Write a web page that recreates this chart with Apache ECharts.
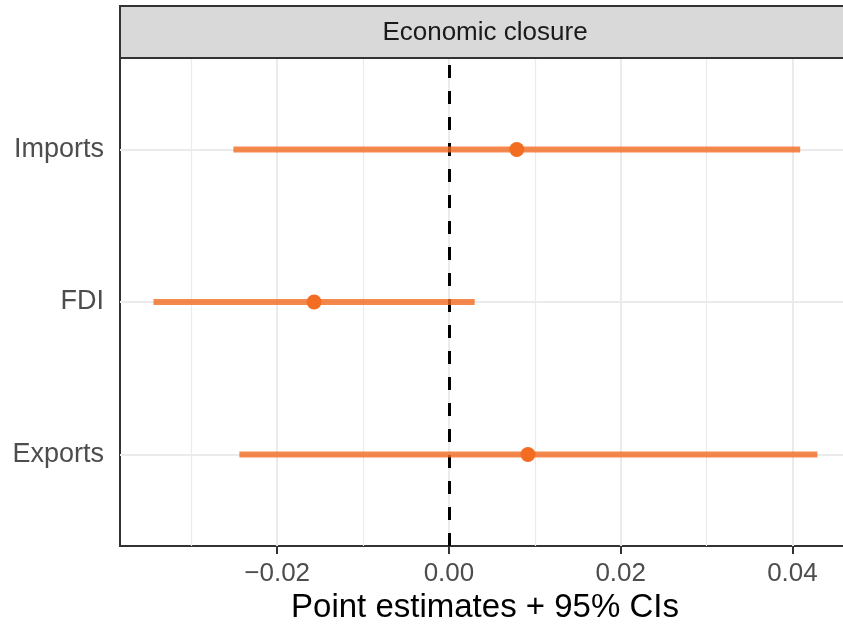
<!DOCTYPE html>
<html>
<head>
<meta charset="utf-8">
<script src="https://cdn.jsdelivr.net/npm/echarts@6/dist/echarts.min.js"></script>
<style>
html,body{margin:0;padding:0;background:#fff;overflow:hidden;width:843px;height:627px;}
#chart{width:843px;height:627px;overflow:hidden;}
</style>
</head>
<body>
<div id="chart"></div>
<script>
// ---- data ----
var categories = ['Exports', 'FDI', 'Imports'];
var estimates = [0.0092, -0.0157, 0.0079];
var lower = [-0.0244, -0.0344, -0.0251];
var upper = [0.0429, 0.0030, 0.0409];
var xMajorTicks = [-0.02, 0.00, 0.02, 0.04];
var xMinorTicks = [-0.03, -0.01, 0.01, 0.03];
var yTicks = [1, 2, 3];
var stripTitle = 'Economic closure';
var xTitle = 'Point estimates + 95% CIs';

var FONT = '"Liberation Sans", Arial, Helvetica, sans-serif';
var ORANGE = '#F26C21';

var chart = echarts.init(document.getElementById('chart'), null, {renderer: 'canvas', width: 843, height: 627});

var rangeData = categories.map(function (c, i) { return [lower[i], upper[i], i + 1]; });
var pointData = categories.map(function (c, i) { return [estimates[i], i + 1]; });

function fmtX(v) {
  var s = Math.abs(v).toFixed(2);
  return (v < -1e-12 ? '\u2212' : '') + s;
}

var option = {
  animation: false,
  backgroundColor: '#ffffff',
  grid: {
    left: 120, top: 58, width: 730, height: 488,
    show: true, borderColor: '#333333', borderWidth: 2, backgroundColor: 'transparent',
    containLabel: false,
    outerBoundsMode: 'none'
  },
  xAxis: {
    type: 'value',
    min: -0.0383, max: 0.0467,
    axisLine: {show: false},
    splitLine: {show: false},
    axisTick: {show: true, customValues: xMajorTicks, length: 8, lineStyle: {color: '#333333', width: 2}},
    axisLabel: {
      show: true, customValues: xMajorTicks, margin: 15,
      color: '#4D4D4D', fontSize: 26, fontFamily: FONT,
      formatter: function (v) { return fmtX(v); }
    },
    name: xTitle,
    nameLocation: 'middle',
    nameGap: 45,
    nameTextStyle: {color: '#000000', fontSize: 33, fontFamily: FONT}
  },
  yAxis: {
    type: 'value',
    min: 0.4, max: 3.6,
    axisLine: {show: false},
    splitLine: {show: false},
    axisTick: {show: true, customValues: yTicks, length: 8, lineStyle: {color: '#333333', width: 2}},
    axisLabel: {
      show: true, customValues: yTicks, margin: 16,
      color: '#4D4D4D', fontSize: 27, fontFamily: FONT,
      formatter: function (v) { return categories[Math.round(v) - 1] || ''; }
    }
  },
  graphic: [
    {
      type: 'rect', z: 100,
      shape: {x: 120, y: 6, width: 730, height: 52},
      style: {fill: '#D9D9D9', stroke: '#333333', lineWidth: 2}
    },
    {
      type: 'text', z: 101,
      x: 485, y: 33,
      style: {
        text: stripTitle, fill: '#1A1A1A', font: '26px ' + FONT,
        textAlign: 'center', textVerticalAlign: 'middle'
      }
    }
  ],
  series: [
    {
      type: 'line', data: [], z: 1, silent: true,
      markLine: {
        z: 1, silent: true, symbol: ['none', 'none'], label: {show: false},
        lineStyle: {color: '#EBEBEB', width: 1.2, type: 'solid'},
        data: xMinorTicks.map(function (v) { return {xAxis: v}; })
      }
    },
    {
      type: 'line', data: [], z: 2, silent: true,
      markLine: {
        z: 2, silent: true, symbol: ['none', 'none'], label: {show: false},
        lineStyle: {color: '#EBEBEB', width: 2, type: 'solid'},
        data: xMajorTicks.map(function (v) { return {xAxis: v}; })
          .concat(yTicks.map(function (v) { return {yAxis: v}; }))
      }
    },
    {
      type: 'line', data: [], z: 3, silent: true,
      markLine: {
        z: 3, silent: true, symbol: ['none', 'none'], label: {show: false},
        lineStyle: {color: '#000000', width: 3, type: [13, 13]},
        data: [{xAxis: 0}]
      }
    },
    {
      type: 'custom', z: 10, silent: true,
      encode: {x: [0, 1], y: 2},
      data: rangeData,
      renderItem: function (params, api) {
        var p1 = api.coord([api.value(0), api.value(2)]);
        var p2 = api.coord([api.value(1), api.value(2)]);
        return {
          type: 'rect',
          shape: {x: p1[0], y: p1[1] - 3, width: p2[0] - p1[0], height: 6},
          style: {fill: 'rgba(242,108,33,0.8)', stroke: null, lineWidth: 0}
        };
      }
    },
    {
      type: 'scatter', z: 11, silent: true,
      symbol: 'circle', symbolSize: 15,
      itemStyle: {color: ORANGE, opacity: 1},
      data: pointData
    }
  ]
};

chart.setOption(option);
</script>
</body>
</html>
